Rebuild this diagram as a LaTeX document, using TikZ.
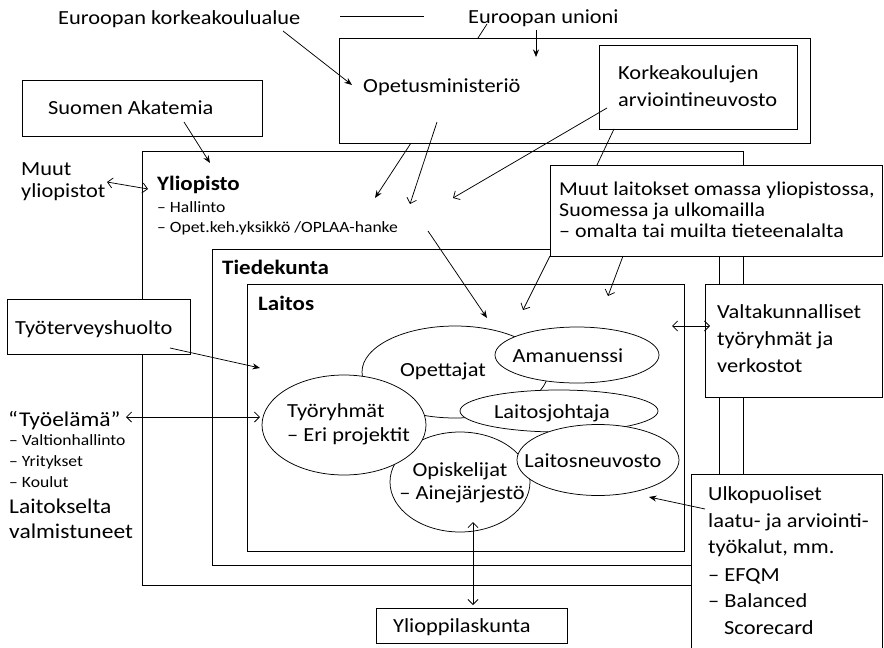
\documentclass[tikz,border=0pt]{standalone}
\usepackage{fontspec}
\setmainfont{Carlito}[FakeStretch=1.12]
\usetikzlibrary{arrows.meta,shapes.geometric}
\begin{document}
\begin{tikzpicture}[x=1pt,y=-1pt,
  box/.style={draw, line width=0.8pt, inner sep=0pt, anchor=north west},
  wbox/.style={box, fill=white},
  lbl/.style={anchor=base west, inner sep=0pt, font=\fontsize{20}{24}\selectfont},
  mlbl/.style={lbl, font=\fontsize{19.6}{24}\selectfont},
  clbl/.style={anchor=base, inner sep=0pt, font=\fontsize{20}{24}\selectfont},
  big/.style={lbl, font=\fontsize{21}{25}\selectfont},
  sml/.style={lbl, font=\fontsize{15.7}{18}\selectfont},
  bld/.style={lbl, font=\fontsize{20.5}{24}\selectfont\bfseries},
  fa/.style={-{Stealth[length=7.5pt,width=6pt]}, line width=0.75pt},
  oa/.style={-{Straight Barb[length=5pt,width=10pt]}, line width=0.75pt},
  da/.style={{Straight Barb[length=5pt,width=10pt]}-{Straight Barb[length=5pt,width=10pt]}, line width=0.75pt},
  ell/.style={draw, ellipse, fill=white, line width=0.75pt, inner sep=0pt}
]
\useasboundingbox (0,0) rectangle (884,648);
% nested boxes
\node[box, minimum width=601pt, minimum height=434pt] (ylio) at (142,151) {};
\node[box, minimum width=507pt, minimum height=316pt] (tdk) at (212,249) {};
\node[box, minimum width=437pt, minimum height=267pt] (lts) at (247,284) {};
\node[box, minimum width=471pt, minimum height=105pt] (om) at (339,38) {};
\node[box, minimum width=198pt, minimum height=84pt] (kan) at (599,45) {};
\node[box, minimum width=240pt, minimum height=56pt] (sa) at (22,80) {};
% overlay boxes
\node[wbox, minimum width=332pt, minimum height=91pt] (muut) at (550,165) {};
\node[wbox, minimum width=177pt, minimum height=113pt] (valt) at (705,284) {};
\node[wbox, minimum width=191pt, minimum height=180pt] (ulko) at (691,474) {};
\node[wbox, minimum width=183pt, minimum height=55pt] (tth) at (7,299) {};
\node[wbox, minimum width=191pt, minimum height=35pt] (yko) at (376,608) {};

% ellipses
\node[ell, minimum width=186pt, minimum height=92pt] (opet) at (455,372) {};
\node[ell, minimum width=164pt, minimum height=56pt] (aman) at (577,355) {};
\node[ell, minimum width=198pt, minimum height=42pt] (ljoht) at (559,411) {};
\node[ell, minimum width=140pt, minimum height=100pt] (opis) at (460,482) {};
\node[ell, minimum width=164pt, minimum height=100pt] (tyor) at (344,425) {};
\node[ell, minimum width=162pt, minimum height=71pt] (lneu) at (598,460) {};

% texts
\node[lbl] (tEKA) at (58,24) {Euroopan korkeakoulualue};
\node[lbl] (tEU) at (468,23) {Euroopan unioni};
\node[lbl] (tOM) at (363,92) {Opetusministeriö};
\node[lbl] (tKAN1) at (618,79) {Korkeakoulujen};
\node[lbl] (tKAN2) at (618,106) {arviointineuvosto};
\node[lbl] (tSA) at (48,114) {Suomen Akatemia};
\node[lbl] (tMY1) at (21,175) {Muut};
\node[lbl] (tMY2) at (21,197) {yliopistot};
\node[bld] (tYL) at (157,190) {Yliopisto};
\node[sml] (tYL1) at (157,212) {– Hallinto};
\node[sml] (tYL2) at (157,232) {– Opet.keh.yksikkö /OPLAA-hanke};
\node[bld] (tTDK) at (222,274) {Tiedekunta};
\node[bld] (tLTS) at (258,310) {Laitos};
\node[mlbl] (tML1) at (559,195) {Muut laitokset omassa yliopistossa,};
\node[mlbl] (tML2) at (559,216) {Suomessa ja ulkomailla};
\node[mlbl] (tML3) at (559,237) {– omalta tai muilta tieteenalalta};
\node[lbl] (tVA1) at (717,318) {Valtakunnalliset};
\node[lbl] (tVA2) at (717,345) {työryhmät ja};
\node[lbl] (tVA3) at (717,372) {verkostot};
\node[lbl] (tTTH) at (15,334) {Työterveyshuolto};
\node[big] (tTE) at (8,426) {“Työelämä”};
\node[sml] (tTE1) at (9,445) {– Valtionhallinto};
\node[sml] (tTE2) at (9,466) {– Yritykset};
\node[sml] (tTE3) at (9,487) {– Koulut};
\node[big] (tLV1) at (9,513) {Laitokselta};
\node[big] (tLV2) at (9,538) {valmistuneet};
\node[lbl] (tUK1) at (708,500) {Ulkopuoliset};
\node[lbl] (tUK2) at (708,527) {laatu- ja arviointi-};
\node[lbl] (tUK3) at (708,553) {työkalut, mm.};
\node[lbl] (tUK4) at (708,581) {– EFQM};
\node[lbl] (tUK5) at (708,607) {– Balanced};
\node[lbl] (tUK6) at (724,634) {Scorecard};
\node[lbl] (tYKO) at (393,632) {Ylioppilaskunta};
\node[clbl] (tOP) at (443,376) {Opettajat};
\node[clbl] (tAM) at (568,362) {Amanuenssi};
\node[clbl] (tLJ) at (552,418) {Laitosjohtaja};
\node[lbl] (tTY1) at (287,417) {Työryhmät};
\node[lbl] (tTY2) at (287,441) {– Eri projektit};
\node[clbl] (tOS1) at (460,476) {Opiskelijat};
\node[clbl] (tOS2) at (462,499) {– Ainejärjestö};
\node[clbl] (tLN) at (593,467) {Laitosneuvosto};

% connector end points
\coordinate (hl1) at (340,16);
\coordinate (hl2) at (424,16);
\coordinate (a1s) at (283,31);  \coordinate (a1e) at (352,85);
\coordinate (a2s) at (487,24);  \coordinate (a2e) at (478,38);
\coordinate (a3s) at (536,30);  \coordinate (a3e) at (536,57);
\coordinate (a4s) at (184,122); \coordinate (a4e) at (210,163);
\coordinate (a5s) at (411,143); \coordinate (a5e) at (375,198);
\coordinate (a6s) at (437,122); \coordinate (a6e) at (410,204);
\coordinate (a7s) at (607,108); \coordinate (a7e) at (453,198);
\coordinate (a8s) at (614,129); \coordinate (a8e) at (597,165);
\coordinate (a9s) at (428,231); \coordinate (a9e) at (487,318);
\coordinate (b1s) at (550,256); \coordinate (b1e) at (523,310);
\coordinate (b2s) at (623,256); \coordinate (b2e) at (608,296);
\coordinate (b3s) at (672,326); \coordinate (b3e) at (710,326);
\coordinate (b4s) at (170,348); \coordinate (b4e) at (260,368);
\coordinate (b5s) at (126,417); \coordinate (b5e) at (260,417);
\coordinate (b6s) at (107,182); \coordinate (b6e) at (148,189);
\coordinate (b7s) at (705,509); \coordinate (b7e) at (649,497);
\coordinate (b8s) at (473,522); \coordinate (b8e) at (473,605);

\draw[line width=0.75pt] (hl1) -- (hl2);
\draw[fa] (a1s) -- (a1e);
\draw[line width=0.75pt] (a2s) -- (a2e);
\draw[fa] (a3s) -- (a3e);
\draw[fa] (a4s) -- (a4e);
\draw[fa] (a5s) -- (a5e);
\draw[oa] (a6s) -- (a6e);
\draw[oa] (a7s) -- (a7e);
\draw[line width=0.75pt] (a8s) -- (a8e);
\draw[fa] (a9s) -- (a9e);
\draw[oa] (b1s) -- (b1e);
\draw[oa] (b2s) -- (b2e);
\draw[da] (b3s) -- (b3e);
\draw[fa] (b4s) -- (b4e);
\draw[da] (b5s) -- (b5e);
\draw[da] (b6s) -- (b6e);
\draw[fa] (b7s) -- (b7e);
\draw[da] (b8s) -- (b8e);
\end{tikzpicture}
\end{document}
